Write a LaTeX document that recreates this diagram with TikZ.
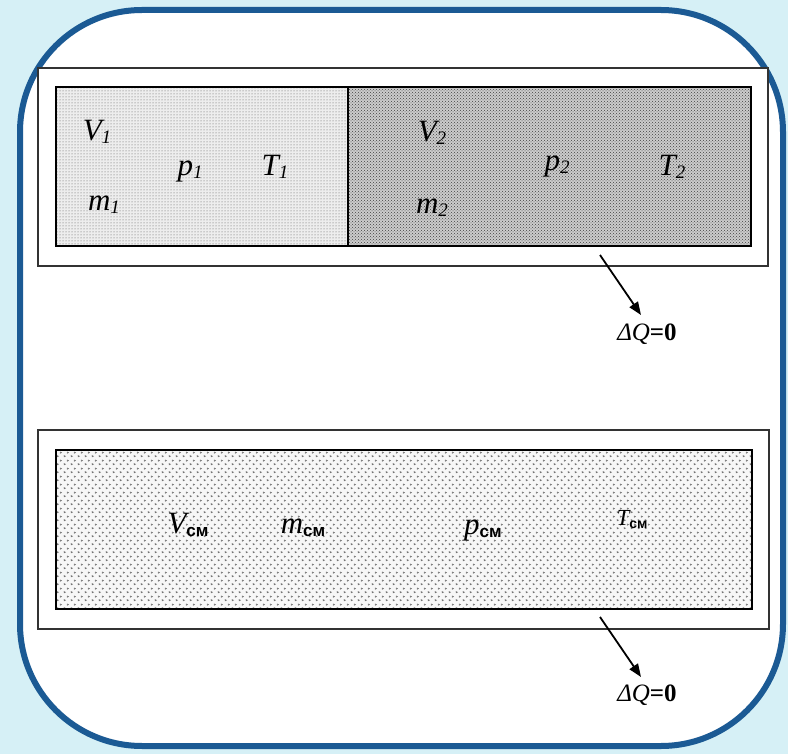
\documentclass[tikz,border=0pt]{standalone}
\usepackage{fontspec}
\setmainfont{Liberation Serif}
\newfontfamily\sansfont{Liberation Sans}
\usetikzlibrary{patterns,patterns.meta,arrows.meta}
\definecolor{bgcyan}{HTML}{D6F0F6}
\definecolor{frameblue}{HTML}{1B5A94}
\tikzdeclarepattern{
  name=chevrons, type=uncolored,
  bounding box={(0pt,0pt) and (7pt,8pt)},
  tile size={(7pt,8pt)},
  code={
    \draw[line width=0.8pt] (1pt,2.8pt) -- (2.6pt,2pt) -- (1pt,1.2pt);
    \draw[line width=0.8pt] (4.5pt,6.8pt) -- (6.1pt,6pt) -- (4.5pt,5.2pt);
  }
}
\newcommand{\glab}[3][31]{{\fontsize{#1}{#1}\selectfont\itshape #2}{\fontsize{19}{19}\selectfont\itshape\raisebox{-3pt}{#3}}}
\newcommand{\cmsub}[1][17]{{\sansfont\bfseries\fontsize{#1}{#1}\selectfont\raisebox{-3pt}{см}}}
\newcommand{\dq}{{\fontsize{25}{25}\selectfont\textit{ΔQ}\textbf{=0}}}
\tikzset{
  outerbox/.style={draw=black!80, line width=1.6pt, fill=white},
  innerbox/.style={draw=black, line width=1.8pt},
  lightdots/.style={fill=gray!14, postaction={pattern=dots, pattern color=black!65}},
  densedots/.style={fill=gray!40, postaction={pattern=crosshatch dots, pattern color=black!75}},
  chevfill/.style={fill=gray!6, postaction={pattern=chevrons, pattern color=black!55}},
  lab/.style={inner sep=0pt, anchor=center},
  heatarrow/.style={-{Triangle[length=13pt,width=10pt]}, line width=1.8pt}
}
\begin{document}
\begin{tikzpicture}[x=1pt,y=-1pt]
\useasboundingbox (0,0) rectangle (788,754);
\fill[bgcyan] (0,0) rectangle (788,754);
\draw[line width=6pt, draw=frameblue, fill=white, rounded corners=122pt] (20,10) rectangle (783,746);

% top vessel
\draw[outerbox] (38,68) rectangle (768,266);
\path[lightdots] (56,87) rectangle (348,246);
\path[densedots] (348,87) rectangle (751,246);
\draw[innerbox] (56,87) rectangle (751,246);
\draw[innerbox] (348,87) -- (348,246);

\node[lab] (V1) at (97,132) {\glab{V}{1}};
\node[lab] (m1) at (104,205) {\glab{m}{1}};
\node[lab] (p1) at (190,171) {\glab{p}{1}};
\node[lab] (T1) at (275,167) {\glab{T}{1}};
\node[lab] (V2) at (432,133) {\glab{V}{2}};
\node[lab] (m2) at (432,208) {\glab{m}{2}};
\node[lab] (p2) at (557,166) {\glab{p}{2}};
\node[lab] (T2) at (672,167) {\glab{T}{2}};

\coordinate (a1s) at (600,255);
\coordinate (a1e) at (641,315);
\draw[heatarrow] (a1s) -- (a1e);
\node[lab] (dq1) at (647,334) {\dq};

% bottom vessel
\draw[outerbox] (38,430) rectangle (769,629);
\path[chevfill] (56,450) rectangle (752,609);
\draw[innerbox] (56,450) rectangle (752,609);

\node[lab] (Vcm) at (188,525) {{\fontsize{31}{31}\selectfont\itshape V}\cmsub};
\node[lab] (mcm) at (303,528) {{\fontsize{31}{31}\selectfont\itshape m}\cmsub};
\node[lab] (pcm) at (483,530) {{\fontsize{31}{31}\selectfont\itshape p}\cmsub};
\node[lab] (Tcm) at (632,520) {{\fontsize{23}{23}\selectfont\itshape T}\cmsub[14]};

\coordinate (a2s) at (600,617);
\coordinate (a2e) at (641,677);
\draw[heatarrow] (a2s) -- (a2e);
\node[lab] (dq2) at (647,695) {\dq};
\end{tikzpicture}
\end{document}
